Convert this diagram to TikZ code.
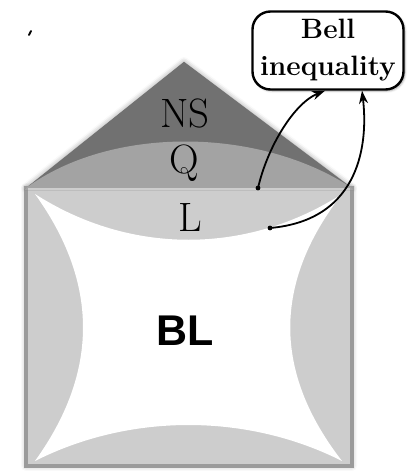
\documentclass[tikz,border=0pt]{standalone}
\usepackage{fontspec}
\newfontfamily\blfont{Liberation Sans}
\usepackage{xcolor}
\usetikzlibrary{positioning,shadows.blur,arrows.meta}
\definecolor{NSGray}{HTML}{717171}
\definecolor{QGray}{HTML}{A3A3A3}
\definecolor{LGray}{HTML}{CDCDCD}
\definecolor{EdgeGray}{HTML}{9B9B9B}
\tikzset{softshade/.style={blur shadow={shadow xshift=0pt,shadow yshift=0pt,shadow blur radius=5pt,shadow opacity=40}}}

\begin{document}
\begin{tikzpicture}[x=1pt,y=-1pt]
\useasboundingbox (0,0) rectangle (410,471);
% sets
\fill[NSGray,softshade] (26,188) -- (184,62) -- (352,188) -- cycle;
\draw[EdgeGray,line width=4pt,fill=LGray,softshade] (26,188) rectangle (352,466);
\fill[NSGray] (24,190) -- (184,62) -- (354,190) -- cycle;
\fill[QGray] (24,190) -- (26,188) .. controls (110,126) and (258,126) .. (352,188) -- (354,190) -- cycle;
\fill[LGray] (28,188) rectangle (350,190);
\fill[white] (35,194) .. controls (130,255) and (247,255) .. (342,194)
  .. controls (273,283) and (273,372) .. (342,461)
  .. controls (247,413) and (130,413) .. (35,461)
  .. controls (99,372) and (99,283) .. (35,194) -- cycle;
\draw[line width=1.8pt,line cap=round] (29,35) -- (31,31);
% labels
\node[font=\fontsize{41}{41}\selectfont,anchor=base] (ns) at (185,127) {NS};
\node[font=\fontsize{41}{41}\selectfont,anchor=base] (q) at (184,173) {Q};
\node[font=\fontsize{41}{41}\selectfont,anchor=base] (l) at (190,231) {L};
\node[font=\blfont\bfseries\fontsize{43}{43}\selectfont,anchor=base] (bl) at (185,345) {BL};
\node[draw,line width=2.4pt,fill=white,rounded corners=18pt,minimum width=151pt,minimum height=78pt,inner sep=0pt,align=center,
  font=\bfseries\fontsize{28}{37}\selectfont,blur shadow={shadow xshift=1.5pt,shadow yshift=-1.5pt,shadow blur radius=2pt,shadow opacity=35}] (bell) at (328,50.5) {Bell\\inequality};
% links
\coordinate (lq) at (258,188);
\coordinate (ll) at (270,228);
\fill (lq) circle (2.4);
\fill (ll) circle (2.4);
\draw[-{Stealth[length=13pt,width=9pt]},line width=1.8pt] (lq) .. controls +(10,-43) and +(-30,12) .. ([xshift=-3pt]bell.south);
\draw[-{Stealth[length=13pt,width=9pt]},line width=1.8pt] (ll) .. controls +(92,-8) and +(6,50) .. ([xshift=34pt]bell.south);
\end{tikzpicture}
\end{document}
